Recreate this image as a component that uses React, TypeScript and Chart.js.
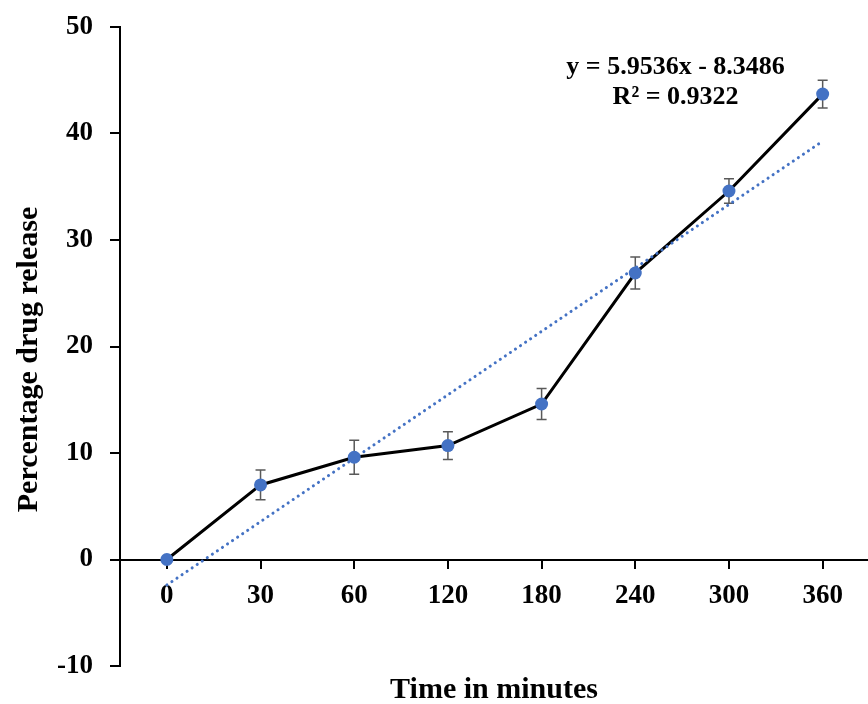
import React, { useEffect, useRef } from "react";
import { Chart, registerables } from "chart.js";

Chart.register(...registerables);

const TIME_LABELS = ["0", "30", "60", "120", "180", "240", "300", "360"];
const RELEASE = [0, 7.0, 9.6, 10.7, 14.6, 26.9, 34.6, 43.7];
const ERRORS = [0, 1.4, 1.6, 1.3, 1.45, 1.5, 1.15, 1.3];
const TREND_SLOPE = 5.9536;
const TREND_INTERCEPT = -8.3486;
const Y_TICKS = [-10, 0, 10, 20, 30, 40, 50];
const EQUATION_LINES = ["y = 5.9536x - 8.3486", "R² = 0.9322"];
const X_TITLE = "Time in minutes";
const Y_TITLE = "Percentage drug release";

const FONT = "'Liberation Serif', 'Times New Roman', serif";
const BLUE = "#4472C4";

// trendline endpoints from the displayed equation (x = 1..n)
const TREND = TIME_LABELS.map((_, i) =>
  i === 0 || i === TIME_LABELS.length - 1 ? TREND_SLOPE * (i + 1) + TREND_INTERCEPT : null
);

const zeroPad = (scale: any) => {
  scale.paddingLeft = 0;
  scale.paddingRight = 0;
  scale.paddingTop = 0;
  scale.paddingBottom = 0;
};

const extrasPlugin = {
  id: "extras",
  beforeDatasetsDraw(chart: any) {
    const { ctx, scales } = chart;
    const xs = scales.x;
    const ys = scales.y;
    ctx.save();
    ctx.strokeStyle = "#595959";
    ctx.lineWidth = 1.5;
    RELEASE.forEach((v, i) => {
      const e = ERRORS[i];
      if (!e) return;
      const x = xs.getPixelForValue(i);
      const yt = ys.getPixelForValue(v + e);
      const yb = ys.getPixelForValue(v - e);
      ctx.beginPath();
      ctx.moveTo(x, yt);
      ctx.lineTo(x, yb);
      ctx.moveTo(x - 5, yt);
      ctx.lineTo(x + 5, yt);
      ctx.moveTo(x - 5, yb);
      ctx.lineTo(x + 5, yb);
      ctx.stroke();
    });
    ctx.restore();
  },
  afterDraw(chart: any) {
    const { ctx, chartArea, scales } = chart;
    ctx.save();
    ctx.fillStyle = "#000";
    ctx.textAlign = "center";
    ctx.textBaseline = "middle";
    // equation
    ctx.font = `bold 26px ${FONT}`;
    const ex = scales.x.getPixelForValue(5.43);
    ctx.fillText(EQUATION_LINES[0], ex, scales.y.getPixelForValue(46.2));
    ctx.fillText(EQUATION_LINES[1], ex, scales.y.getPixelForValue(43.4));
    // x title
    ctx.font = `bold 30px ${FONT}`;
    ctx.fillText(X_TITLE, 494, chartArea.bottom + 24);
    // y title
    ctx.font = `bold 30px ${FONT}`;
    ctx.translate(29, (chartArea.top + chartArea.bottom) / 2 + 13);
    ctx.rotate(-Math.PI / 2);
    ctx.fillText(Y_TITLE, 0, 0);
    ctx.restore();
  },
};

export default function App() {
  const ref = useRef<HTMLCanvasElement>(null);
  useEffect(() => {
    if (!ref.current) return;
    const chart = new Chart(ref.current, {
      type: "line",
      data: {
        labels: TIME_LABELS,
        datasets: [
          {
            label: "Trend",
            data: TREND,
            borderColor: BLUE,
            borderWidth: 3,
            borderDash: [0.1, 6],
            borderCapStyle: "round",
            pointRadius: 0,
            spanGaps: true,
            fill: false,
          },
          {
            label: "Release",
            data: RELEASE,
            borderColor: "#000",
            borderWidth: 3,
            pointRadius: 6.5,
            pointBackgroundColor: BLUE,
            pointBorderColor: BLUE,
            pointBorderWidth: 0,
            fill: false,
            tension: 0,
          },
        ],
      } as any,
      options: {
        animation: false,
        responsive: false,
        maintainAspectRatio: false,
        layout: { padding: { top: 27, bottom: 38, left: 0, right: 0 } },
        plugins: { legend: { display: false }, tooltip: { enabled: false } },
        scales: {
          x: {
            type: "category",
            position: { y: 0 } as any,
            offset: true,
            afterFit: zeroPad,
            grid: {
              display: true,
              drawOnChartArea: false,
              drawTicks: true,
              tickLength: 8,
              color: "#000",
              lineWidth: 2,
            },
            border: { display: true, color: "#000", width: 2 },
            ticks: {
              color: "#000",
              font: { family: FONT, size: 27, weight: "bold" },
              padding: 12,
              maxRotation: 0,
            },
          },
          y: {
            min: -10,
            max: 50,
            afterFit(scale: any) {
              scale.width = 120;
              zeroPad(scale);
            },
            afterBuildTicks(scale: any) {
              scale.ticks = Y_TICKS.map((v) => ({ value: v }));
            },
            grid: {
              display: true,
              drawOnChartArea: false,
              drawTicks: true,
              tickLength: 10,
              color: "#000",
              lineWidth: 2,
            },
            border: { display: true, color: "#000", width: 2 },
            ticks: {
              color: "#000",
              font: { family: FONT, size: 27, weight: "bold" },
              padding: 17,
            },
          },
        },
      },
      plugins: [extrasPlugin],
    });
    return () => chart.destroy();
  }, []);
  return (
    <div
      style={{
        position: "fixed",
        left: 0,
        top: 0,
        width: 868,
        height: 704,
        overflow: "hidden",
        background: "#fff",
      }}
    >
      <canvas ref={ref} width={876} height={704} style={{ width: 876, height: 704, display: "block" }} />
    </div>
  );
}
